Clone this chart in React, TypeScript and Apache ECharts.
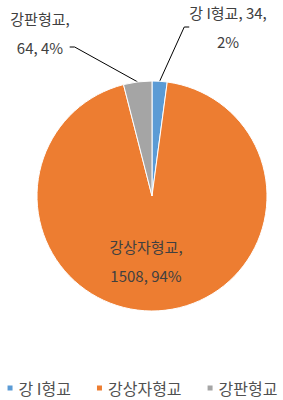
import React, { useEffect, useRef } from "react";
import * as echarts from "echarts";

const categories = ["강 I형교", "강상자형교", "강판형교"];
const values = [34, 1508, 64];
const colors = ["#5B9BD5", "#ED7D31", "#A5A5A5"];
// trailing blank line keeps the gray leader line attached to its second text line
const labelFormats = ["{b}, {c},\n{d}%", "{b},\n{c}, {d}%", "{b},\n{c}, {d}%\n\u00a0"];

export default function App() {
  const ref = useRef<HTMLDivElement>(null);
  useEffect(() => {
    const chart = echarts.init(ref.current!, undefined, { renderer: "svg" });
    const font = "Noto Sans CJK KR";
    const labelPos = [
      { x: 228, y: 27 },
      { x: 146, y: 261 },
      { x: 40, y: 47 },
    ];
    chart.setOption({
      animation: false,
      backgroundColor: "#fff",
      color: colors,
      legend: {
        bottom: 4,
        padding: 0,
        left: "center",
        icon: "rect",
        itemWidth: 7,
        itemHeight: 7,
        itemGap: 24,
        textStyle: { fontFamily: font, fontSize: 16, color: "#505050" },
        data: categories,
      },
      series: [
        {
          type: "pie",
          center: [152, 196],
          radius: 115,
          startAngle: 90,
          clockwise: true,
          percentPrecision: 0,
          itemStyle: { borderColor: "#fff", borderWidth: 1 },
          label: {
            fontFamily: font,
            fontSize: 15,
            color: "#404040",
            lineHeight: 29,
          },
          labelLine: { show: true, lineStyle: { color: "#000", width: 1 }, length: 10, length2: 5 },
          labelLayout: (params: any) => {
            const p = labelPos[params.dataIndex];
            return { x: p.x, y: p.y, align: "center", verticalAlign: "middle" };
          },
          data: categories.map((name, i) => ({
            name,
            value: values[i],
            label: {
              formatter: labelFormats[i],
              position: i === 1 ? "inside" : "outside",
            },
            labelLine: { show: i !== 1 },
          })),
        },
      ],
    });
    return () => chart.dispose();
  }, []);
  return (
    <div
      ref={ref}
      style={{ position: "fixed", left: 0, top: 0, width: 283, height: 400 }}
    />
  );
}
